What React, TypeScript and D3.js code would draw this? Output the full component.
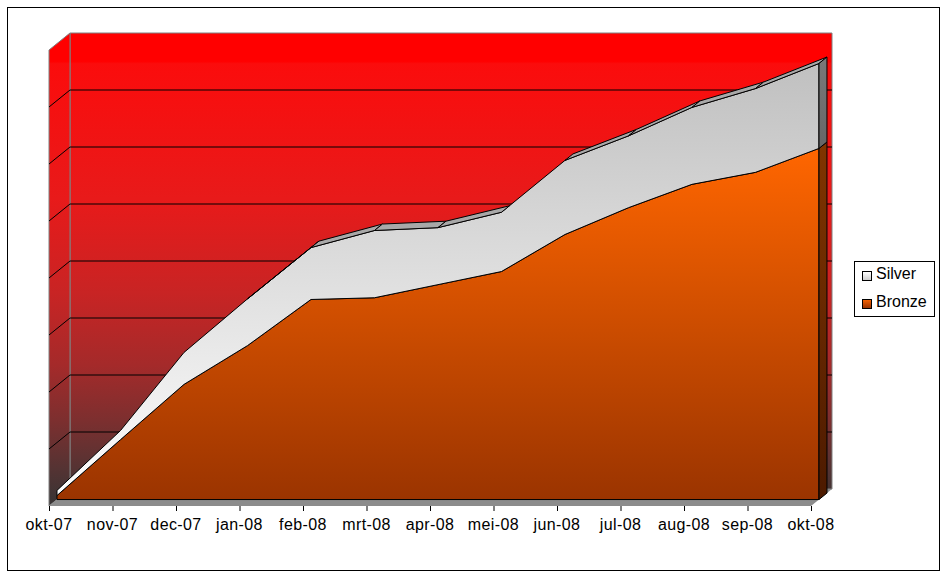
import React, { useEffect, useRef } from "react";
import * as d3 from "d3";

const months = [
  "okt-07", "nov-07", "dec-07", "jan-08", "feb-08", "mrt-08", "apr-08",
  "mei-08", "jun-08", "jul-08", "aug-08", "sep-08", "okt-08",
];
const bronze = [0.7, 10.5, 20.2, 27.0, 35.1, 35.4, 37.7, 40.0, 46.5, 51.2, 55.3, 57.4, 61.6];
const silver = [0.9, 1.6, 5.6, 8.2, 9.1, 11.8, 10.0, 10.4, 13.0, 12.6, 13.5, 14.7, 14.9];
const gridValues = [10, 20, 30, 40, 50, 60, 70];
const legendNames = ["Silver", "Bronze"];

const W = 947;
const H = 576;
const FONT = "'Liberation Sans', Arial, sans-serif";

type Pt = [number, number];

const App: React.FC = () => {
  const svgRef = useRef<SVGSVGElement>(null);

  useEffect(() => {
    if (!svgRef.current) return;
    const svg = d3.select(svgRef.current);
    svg.selectAll("*").remove();

    const x = d3.scalePoint<string>().domain(months).range([49, 811]);
    const y = d3.scaleLinear().domain([0, 80]).range([506, 50]);
    const depthX = 21;
    const depthY = -17;
    const z0 = 0.38;
    const z1 = 0.76;
    const last = months.length - 1;

    const P = (i: number, v: number, z: number): Pt => [
      (x(months[i]) as number) + depthX * z,
      y(v) + depthY * z,
    ];
    const line = d3.line<Pt>();
    const poly = (pts: Pt[]) => (line(pts) as string) + "Z";

    // gradients
    const defs = svg.append("defs");
    const grad = (id: string, y1: number, y2: number, stops: [number, string][]) => {
      const g = defs
        .append("linearGradient")
        .attr("id", id)
        .attr("gradientUnits", "userSpaceOnUse")
        .attr("x1", 0)
        .attr("x2", 0)
        .attr("y1", y1)
        .attr("y2", y2);
      stops.forEach(([o, c]) => g.append("stop").attr("offset", o).attr("stop-color", c));
    };
    grad("wall", 33, 506, [
      [0, "#ff0000"],
      [0.06, "#ff0000"],
      [0.065, "#fb0c0c"],
      [0.35, "#e81a1a"],
      [0.55, "#c82424"],
      [0.7, "#a52a2a"],
      [0.82, "#7c2f2f"],
      [0.92, "#553333"],
      [1, "#363434"],
    ]);
    const tot = bronze.map((b, i) => b + silver[i]);
    grad("bronzeFront", P(last, bronze[last], z0)[1], y(0), [
      [0, "#ff6600"],
      [1, "#993300"],
    ]);
    grad("bronzeSide", 140, 500, [
      [0, "#823500"],
      [1, "#4c1a00"],
    ]);
    grad("silverFront", P(last, tot[last], z0)[1], y(0), [
      [0, "#c0c0c0"],
      [1, "#ffffff"],
    ]);
    grad("silverSide", 55, 150, [
      [0, "#7a7a7a"],
      [1, "#666666"],
    ]);
    grad("legBronze", 299, 308, [
      [0, "#ff6600"],
      [1, "#993300"],
    ]);
    grad("legSilver", 272, 281, [
      [0, "#ffffff"],
      [1, "#c8c8c8"],
    ]);

    // outer border
    svg
      .append("rect")
      .attr("x", 7.5)
      .attr("y", 7.5)
      .attr("width", 932)
      .attr("height", 563)
      .attr("fill", "#fff")
      .attr("stroke", "#000");

    // back wall and side wall
    svg
      .append("path")
      .attr("d", poly([P(0, 80, 1), P(last, 80, 1), P(last, 0, 1), P(0, 0, 1)]))
      .attr("fill", "url(#wall)")
      .attr("stroke", "#808080");
    svg
      .append("path")
      .attr("d", poly([P(0, 80, 0), P(0, 80, 1), P(0, 0, 1), P(0, 0, 0)]))
      .attr("fill", "url(#wall)")
      .attr("stroke", "#808080");

    // gridlines
    svg
      .selectAll("path.grid")
      .data(gridValues)
      .enter()
      .append("path")
      .attr("class", "grid")
      .attr("d", (g) => line([P(0, g, 0), P(0, g, 1), P(last, g, 1)]) as string)
      .attr("fill", "none")
      .attr("stroke", "#000");

    // floor
    svg
      .append("path")
      .attr("d", poly([P(0, 0, 0), P(last, 0, 0), P(last, 0, 1), P(0, 0, 1)]))
      .attr("fill", "#8c8c8c");

    // area slabs
    const stroke = (sel: d3.Selection<SVGPathElement, unknown, null, undefined>) =>
      sel.attr("stroke", "#000").attr("stroke-width", 1).attr("stroke-linejoin", "round");

    const bronzeFront: Pt[] = [
      ...bronze.map((b, i) => P(i, b, z0)),
      P(last, 0, z0),
      P(0, 0, z0),
    ];
    svg.append("path").attr("d", poly(bronzeFront)).attr("fill", "url(#bronzeFront)").call(stroke);
    svg
      .append("path")
      .attr("d", poly([P(last, bronze[last], z0), P(last, bronze[last], z1), P(last, 0, z1), P(last, 0, z0)]))
      .attr("fill", "url(#bronzeSide)")
      .call(stroke);

    const silverFront: Pt[] = [
      ...tot.map((t, i) => P(i, t, z0)),
      ...bronze.map((b, i) => P(i, b, z0)).reverse(),
    ];
    svg.append("path").attr("d", poly(silverFront)).attr("fill", "url(#silverFront)").call(stroke);

    const ddx = depthX * (z1 - z0);
    const ddy = depthY * (z1 - z0);
    for (let i = 0; i < last; i++) {
      const a = P(i, tot[i], z0);
      const b = P(i + 1, tot[i + 1], z0);
      const ex = b[0] - a[0];
      const ey = b[1] - a[1];
      if (ex * ddy - ey * ddx >= 0) continue;
      svg
        .append("path")
        .attr("d", poly([a, b, P(i + 1, tot[i + 1], z1), P(i, tot[i], z1)]))
        .attr("fill", "#a8a8a8")
        .call(stroke);
    }
    svg
      .append("path")
      .attr("d", poly([P(last, tot[last], z0), P(last, tot[last], z1), P(last, bronze[last], z1), P(last, bronze[last], z0)]))
      .attr("fill", "url(#silverSide)")
      .call(stroke);

    // x axis ticks and labels
    svg
      .selectAll("line.tick")
      .data(months)
      .enter()
      .append("line")
      .attr("class", "tick")
      .attr("x1", (d) => (x(d) as number) + 0.5)
      .attr("x2", (d) => (x(d) as number) + 0.5)
      .attr("y1", 506)
      .attr("y2", 511)
      .attr("stroke", "#000");
    svg
      .selectAll("text.label")
      .data(months)
      .enter()
      .append("text")
      .attr("class", "label")
      .attr("x", (d) => x(d) as number)
      .attr("y", 530)
      .attr("text-anchor", "middle")
      .attr("font-family", FONT)
      .attr("font-size", 16)
      .attr("letter-spacing", 0.4)
      .text((d) => d);

    // legend
    const leg = svg.append("g");
    leg
      .append("rect")
      .attr("x", 854.5)
      .attr("y", 261.5)
      .attr("width", 80)
      .attr("height", 55)
      .attr("fill", "#fff")
      .attr("stroke", "#000");
    const legFills = ["url(#legSilver)", "url(#legBronze)"];
    legendNames.forEach((name, i) => {
      leg
        .append("rect")
        .attr("x", 862.5)
        .attr("y", 271.5 + i * 28)
        .attr("width", 9)
        .attr("height", 9)
        .attr("fill", legFills[i])
        .attr("stroke", "#000");
      leg
        .append("text")
        .attr("x", 876)
        .attr("y", 279 + i * 28)
        .attr("font-family", FONT)
        .attr("font-size", 16)
        .text(name);
    });
  }, []);

  return (
    <svg
      ref={svgRef}
      width={W}
      height={H}
      style={{ position: "absolute", left: 0, top: 0 }}
    />
  );
};

export default App;
